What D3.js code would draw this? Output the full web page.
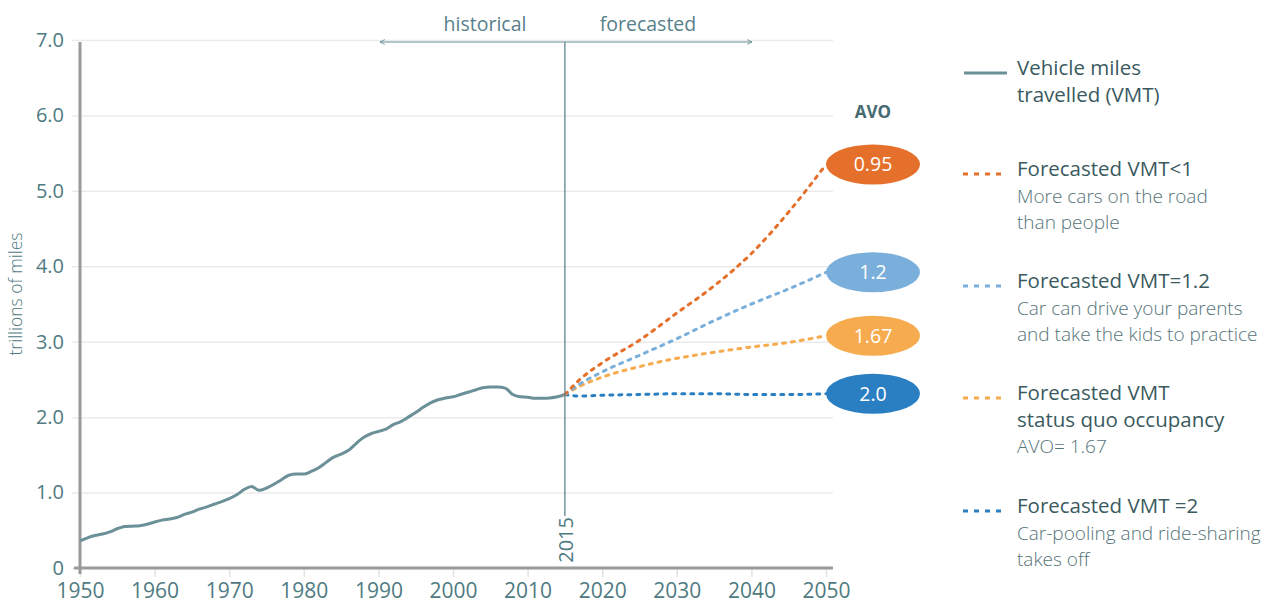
<!DOCTYPE html>
<html>
<head>
<meta charset="utf-8">
<script src="https://cdn.jsdelivr.net/npm/d3@7"></script>
<style>
  body { margin: 0; background: #fff; font-family: "Open Sans", sans-serif; }
  text { font-family: "Open Sans", sans-serif; }
</style>
</head>
<body>
<svg id="chart" width="1274" height="603"></svg>
<script>
"use strict";

// historical vehicle miles travelled, trillions
const histYears = [1950, 1951, 1952, 1953, 1954, 1955, 1956, 1957, 1958, 1959,
  1960, 1961, 1962, 1963, 1964, 1965, 1966, 1967, 1968, 1969,
  1970, 1971, 1972, 1973, 1974, 1975, 1976, 1977, 1978, 1979,
  1980, 1981, 1982, 1983, 1984, 1985, 1986, 1987, 1988, 1989,
  1990, 1991, 1992, 1993, 1994, 1995, 1996, 1997, 1998, 1999,
  2000, 2001, 2002, 2003, 2004, 2005, 2006, 2007, 2008, 2009,
  2010, 2011, 2012, 2013, 2014, 2015];
const histVMT = [0.36, 0.40, 0.43, 0.45, 0.48, 0.52, 0.55, 0.555, 0.56, 0.58,
  0.61, 0.635, 0.65, 0.67, 0.71, 0.74, 0.78, 0.81, 0.845, 0.88,
  0.92, 0.97, 1.04, 1.08, 1.03, 1.06, 1.11, 1.17, 1.23, 1.245,
  1.245, 1.28, 1.33, 1.40, 1.47, 1.51, 1.56, 1.65, 1.73, 1.78,
  1.81, 1.84, 1.90, 1.94, 2.00, 2.06, 2.13, 2.19, 2.23, 2.255,
  2.27, 2.30, 2.33, 2.36, 2.39, 2.40, 2.40, 2.385, 2.30, 2.27,
  2.265, 2.25, 2.25, 2.255, 2.27, 2.30];

// forecasts by average vehicle occupancy (AVO)
const forecastYears = [2015, 2017, 2020, 2025, 2030, 2035, 2040, 2045, 2050];
const forecastAvo095 = [2.30, 2.50, 2.72, 3.02, 3.38, 3.74, 4.17, 4.72, 5.35];
const forecastAvo12  = [2.30, 2.44, 2.60, 2.82, 3.04, 3.28, 3.50, 3.70, 3.92];
const forecastAvo167 = [2.30, 2.41, 2.53, 2.67, 2.78, 2.86, 2.93, 2.99, 3.08];
const forecastAvo2   = [2.30, 2.28, 2.29, 2.30, 2.31, 2.31, 2.30, 2.30, 2.31];
const avoLabels = ["0.95", "1.2", "1.67", "2.0"];

const xTicks = [1950, 1960, 1970, 1980, 1990, 2000, 2010, 2020, 2030, 2040, 2050];
const yTicks = [0, 1, 2, 3, 4, 5, 6, 7];
const splitYear = 2015;

const legendTitles = [
  ["Vehicle miles", "travelled (VMT)"],
  ["Forecasted VMT<1"],
  ["Forecasted VMT=1.2"],
  ["Forecasted VMT", "status quo occupancy"],
  ["Forecasted VMT =2"]
];
const legendNotes = [
  [],
  ["More cars on the road", "than people"],
  ["Car can drive your parents", "and take the kids to practice"],
  ["AVO= 1.67"],
  ["Car-pooling and ride-sharing", "takes off"]
];

// styling
const histColor = "#6b9098";
const forecastColors = ["#e5702b", "#7aafdc", "#f6ab4f", "#2a7fc3"];
const tickColor = "#4f7a82";
const titleColor = "#3a5a60";
const noteColor = "#557479";

const svg = d3.select("#chart");

const x = d3.scaleLinear().domain([1950, 2050]).range([80, 826]);
const y = d3.scaleLinear().domain([0, 7]).range([568, 40]);

// y axis with gridlines
let yAxis = svg.append("g")
    .attr("transform", "translate(72,0)")
    .call(d3.axisLeft(y)
      .tickValues(yTicks)
      .tickSize(-761)
      .tickPadding(8)
      .tickFormat(d => d === 0 ? "0" : d.toFixed(1)));
yAxis.select(".domain").remove();
yAxis.selectAll(".tick line").attr("stroke", "#ebebeb").attr("stroke-width", 1.5);
yAxis.selectAll(".tick text")
    .attr("fill", tickColor)
    .style("font-size", "20px");

// x axis
let xAxis = svg.append("g")
    .attr("transform", "translate(0,568)")
    .call(d3.axisBottom(x)
      .tickValues(xTicks)
      .tickSize(9)
      .tickPadding(6)
      .tickFormat(d3.format("d")));
xAxis.select(".domain").remove();
xAxis.selectAll(".tick line").attr("stroke", "#e3e3e3").attr("stroke-width", 1.5);
xAxis.selectAll(".tick text")
    .attr("fill", tickColor)
    .style("font-size", "21px");

// axis lines
svg.append("line")
    .attr("x1", 80).attr("x2", 80)
    .attr("y1", 42).attr("y2", 574)
    .attr("stroke", "#9a9a9a").attr("stroke-width", 3);
svg.append("line")
    .attr("x1", 74).attr("x2", 833)
    .attr("y1", 568).attr("y2", 568)
    .attr("stroke", "#9a9a9a").attr("stroke-width", 3);

// y axis title
svg.append("text")
    .attr("transform", "translate(22,294) rotate(-90)")
    .attr("text-anchor", "middle")
    .attr("fill", tickColor)
    .style("font-size", "17.5px")
    .style("font-weight", 300)
    .text("trillions of miles");

// historical line
let line = d3.line()
    .x(d => x(d[0]))
    .y(d => y(d[1]))
    .curve(d3.curveMonotoneX);

svg.append("path")
    .datum(d3.zip(histYears, histVMT))
    .attr("fill", "none")
    .attr("stroke", histColor)
    .attr("stroke-width", 3)
    .attr("stroke-linejoin", "round")
    .attr("d", line);

// forecast lines
let forecasts = [forecastAvo095, forecastAvo12, forecastAvo167, forecastAvo2];
forecasts.slice().reverse().forEach((values, i) => {
  let k = forecasts.length - 1 - i;
  svg.append("path")
      .datum(d3.zip(forecastYears, values))
      .attr("fill", "none")
      .attr("stroke", forecastColors[k])
      .attr("stroke-width", 3)
      .attr("stroke-linecap", "round")
      .attr("stroke-dasharray", "3,6")
      .attr("d", line);
});

// AVO bubbles
svg.append("text")
    .attr("x", x(2050) + 47)
    .attr("y", 118)
    .attr("text-anchor", "middle")
    .attr("fill", "#456a71")
    .style("font-size", "17px")
    .style("font-weight", 700)
    .text("AVO");

forecasts.forEach((values, i) => {
  let cx = x(2050) + 47;
  let cy = y(values[values.length - 1]);
  svg.append("ellipse")
      .attr("cx", cx).attr("cy", cy)
      .attr("rx", 47).attr("ry", 20)
      .attr("fill", forecastColors[i]);
  svg.append("text")
      .attr("x", cx).attr("y", cy)
      .attr("dy", "0.35em")
      .attr("text-anchor", "middle")
      .attr("fill", "#fff")
      .style("font-size", "19.5px")
      .text(avoLabels[i]);
});

// 2015 marker
svg.append("line")
    .attr("x1", x(splitYear)).attr("x2", x(splitYear))
    .attr("y1", 42).attr("y2", 516)
    .attr("stroke", "#5f858c").attr("stroke-width", 1.3);
svg.append("text")
    .attr("transform", `translate(${x(splitYear) + 8},517) rotate(-90)`)
    .attr("text-anchor", "end")
    .attr("fill", tickColor)
    .style("font-size", "20px")
    .text(splitYear);

// historical / forecasted arrow
let defs = svg.append("defs");
defs.append("marker")
    .attr("id", "arrow")
    .attr("viewBox", "0 -5 10 10")
    .attr("refX", 9).attr("refY", 0)
    .attr("markerWidth", 6).attr("markerHeight", 6)
    .attr("markerUnits", "userSpaceOnUse")
    .attr("orient", "auto-start-reverse")
    .append("path")
    .attr("d", "M1,-4L9,0L1,4")
    .attr("fill", "none")
    .attr("stroke", "#6b9098")
    .attr("stroke-width", 1.5);

svg.append("line")
    .attr("x1", 380).attr("x2", 752)
    .attr("y1", 42).attr("y2", 42)
    .attr("stroke", "#6b9098").attr("stroke-width", 1.2)
    .attr("marker-start", "url(#arrow)")
    .attr("marker-end", "url(#arrow)");

svg.append("text")
    .attr("x", 485).attr("y", 31)
    .attr("text-anchor", "middle")
    .attr("fill", "#58808a")
    .style("font-size", "19.5px")
    .text("historical");
svg.append("text")
    .attr("x", 648).attr("y", 31)
    .attr("text-anchor", "middle")
    .attr("fill", "#58808a")
    .style("font-size", "19.5px")
    .text("forecasted");

// legend
const legendTop = [75, 176, 288, 400, 513];
const lineGap = 26.5;
let legend = svg.append("g");
legendTitles.forEach((titles, i) => {
  let g = legend.append("g").attr("transform", `translate(0,${legendTop[i]})`);
  let sample = g.append("line")
      .attr("x1", 964).attr("x2", 1007)
      .attr("y1", -2).attr("y2", -2)
      .attr("stroke-width", 3);
  if (i === 0) {
    sample.attr("stroke", histColor);
  } else {
    sample.attr("stroke", forecastColors[i - 1])
        .attr("x1", 963).attr("x2", 1004)
        .attr("stroke-dasharray", "5,6");
  }
  let rows = titles.map(t => ({text: t, note: false}))
      .concat(legendNotes[i].map(t => ({text: t, note: true})));
  rows.forEach((r, j) => {
    g.append("text")
        .attr("x", 1017)
        .attr("y", j * lineGap)
        .attr("fill", r.note ? noteColor : titleColor)
        .style("font-size", r.note ? "19px" : "20.5px")
        .style("font-weight", r.note ? 300 : 400)
        .text(r.text);
  });
});
</script>
</body>
</html>
